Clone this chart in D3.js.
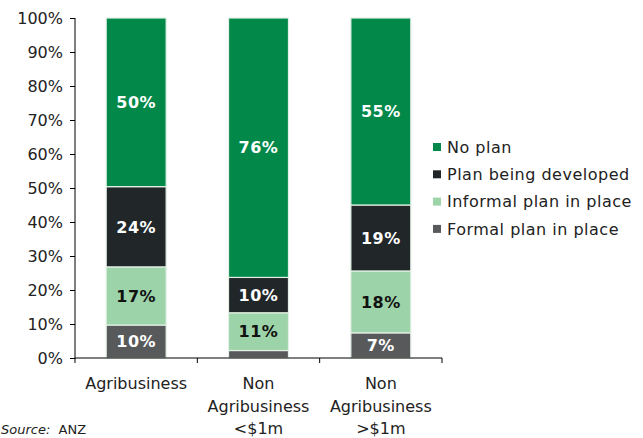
<!DOCTYPE html>
<meta charset="utf-8">
<style>
  body { margin: 0; background: #fff; }
  svg text { font-family: "DejaVu Sans", Verdana, sans-serif; }
  .axis path, .axis line { stroke: #000; }
  .axis text { font-size: 16px; fill: #222; }
</style>
<body>
<script src="https://cdnjs.cloudflare.com/ajax/libs/d3/7.8.5/d3.min.js"></script>
<script>
// categories (each label split into lines)
var categories = ["Agribusiness", "Non Agribusiness <$1m", "Non Agribusiness >$1m"];
var categoryLines = [["Agribusiness"], ["Non", "Agribusiness", "<$1m"], ["Non", "Agribusiness", ">$1m"]];

// series, bottom of the stack first
var seriesNames = ["Formal plan in place", "Informal plan in place", "Plan being developed", "No plan"];
var formalPlan    = [9.7, 2.2, 7.4];
var informalPlan  = [17.1, 11.1, 18.2];
var planDeveloped = [23.6, 10.4, 19.4];
var noPlan        = [49.6, 76.3, 55.0];
var showLabel = [[true, false, true], [true, true, true], [true, true, true], [true, true, true]];

var yTicks = [0, 10, 20, 30, 40, 50, 60, 70, 80, 90, 100];

var colors = ["#58595b", "#9dd3a8", "#212729", "#02894a"];
var labelColors = ["#fff", "#111", "#fff", "#fff"];

var W = 643, H = 438;
var svg = d3.select("body").append("svg")
    .attr("width", W).attr("height", H);

var x = d3.scaleBand().domain(categories).range([75, 442]).padding(0);
var y = d3.scaleLinear().domain([0, 100]).range([358, 18]);
var barW = x.bandwidth() * 0.49;

var rows = categories.map(function(c, i) {
  return {cat: c, f: formalPlan[i], i2: informalPlan[i], d: planDeveloped[i], n: noPlan[i]};
});
var keys = ["f", "i2", "d", "n"];
var stack = d3.stack().keys(keys)(rows);

var layers = svg.selectAll(".layer").data(stack).enter().append("g")
    .attr("fill", function(d, i) { return colors[i]; });

layers.selectAll("rect").data(function(d) { return d; }).enter().append("rect")
    .attr("x", function(d) { return x(d.data.cat) + (x.bandwidth() - barW) / 2; })
    .attr("width", barW)
    .attr("y", function(d) { return y(d[1]); })
    .attr("height", function(d) { return y(d[0]) - y(d[1]); })
    .attr("stroke", "#e3f0e5")
    .attr("stroke-width", 1.2);

layers.each(function(layer, li) {
  d3.select(this).selectAll("text").data(layer).enter()
    .filter(function(d, ci) { return showLabel[li][ci]; })
    .append("text")
    .attr("x", function(d) { return x(d.data.cat) + x.bandwidth() / 2; })
    .attr("y", function(d) { return (y(d[0]) + y(d[1])) / 2; })
    .attr("dy", "0.36em")
    .attr("text-anchor", "middle")
    .attr("font-size", 16)
    .attr("font-weight", "bold")
    .attr("letter-spacing", 0.5)
    .attr("fill", labelColors[li])
    .text(function(d) { return Math.round(d[1] - d[0]) + "%"; });
});

// y axis
svg.append("g").attr("class", "axis")
    .attr("transform", "translate(75,0)")
    .call(d3.axisLeft(y).tickValues(yTicks).tickSize(5).tickPadding(7)
      .tickFormat(function(d) { return d + "%"; }))
    .call(function(g) { g.select(".domain").attr("d", "M0," + y(0) + "V" + y(100)); });

// x axis with ticks at band boundaries
var xg = svg.append("g").attr("class", "axis");
xg.append("line").attr("x1", 75).attr("x2", 442).attr("y1", y(0)).attr("y2", y(0))
    .attr("stroke", "#000");
var bounds = categories.map(function(c) { return x(c); }).concat([x.range()[1]]);
xg.selectAll(".tk").data(bounds).enter().append("line")
    .attr("x1", function(d) { return d; }).attr("x2", function(d) { return d; })
    .attr("y1", y(0)).attr("y2", y(0) + 5)
    .attr("stroke", "#000");
categories.forEach(function(c, i) {
  var t = xg.append("text")
      .attr("x", x(c) + x.bandwidth() / 2)
      .attr("y", 389)
      .attr("text-anchor", "middle")
      .attr("fill", "#222");
  categoryLines[i].forEach(function(line, j) {
    t.append("tspan").attr("x", x(c) + x.bandwidth() / 2)
      .attr("dy", j === 0 ? 0 : 22.5).text(line);
  });
});

// legend, top row is the top of the stack
var legendItems = seriesNames.map(function(s, i) { return {name: s, color: colors[i]}; }).reverse();
var lg = svg.selectAll(".leg").data(legendItems).enter().append("g")
    .attr("transform", function(d, i) { return "translate(433," + (147 + i * 27.3) + ")"; });
lg.append("rect").attr("x", 0).attr("y", -4).attr("width", 8).attr("height", 8)
    .attr("fill", function(d) { return d.color; });
lg.append("text").attr("x", 14).attr("dy", "0.36em")
    .attr("font-size", 16).attr("letter-spacing", 0.5).attr("fill", "#222")
    .text(function(d) { return d.name; });

// source note
var src = svg.append("text").attr("x", 1).attr("y", 434).attr("font-size", 13).attr("fill", "#222");
src.append("tspan").attr("font-style", "italic").text("Source:");
src.append("tspan").text("\u00a0 ANZ");
</script>
</body>
